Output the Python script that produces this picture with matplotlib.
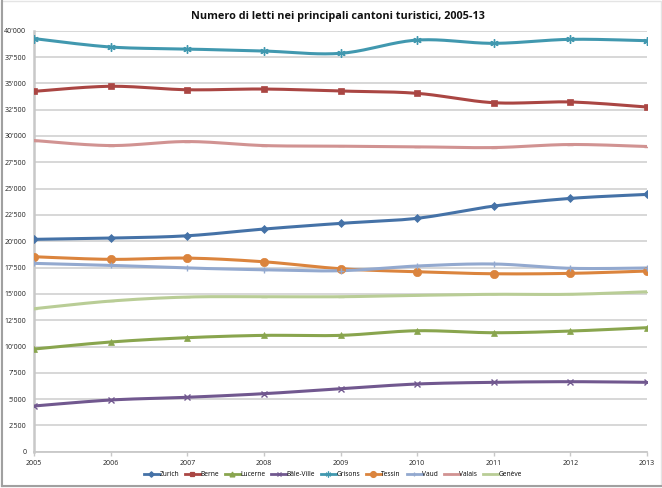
import numpy as np
import matplotlib
matplotlib.use("Agg")
import matplotlib.pyplot as plt
from matplotlib.ticker import FuncFormatter, MultipleLocator
from matplotlib.lines import Line2D

years = [2005, 2006, 2007, 2008, 2009, 2010, 2011, 2012, 2013]
zurich = [20180, 20300, 20520, 21160, 21700, 22180, 23340, 24070, 24450]
berne = [34240, 34720, 34390, 34460, 34270, 34050, 33160, 33230, 32750]
lucerne = [9760, 10430, 10840, 11060, 11060, 11500, 11310, 11470, 11790]
bale_ville = [4350, 4920, 5180, 5520, 5990, 6440, 6600, 6660, 6600]
grisons = [39250, 38450, 38260, 38070, 37850, 39110, 38800, 39180, 39050]
tessin = [18530, 18280, 18400, 18050, 17390, 17100, 16910, 16950, 17170]
vaud = [17900, 17710, 17460, 17290, 17200, 17650, 17840, 17430, 17460]
valais = [29570, 29090, 29470, 29090, 29030, 28970, 28900, 29190, 29000]
geneve = [13590, 14320, 14700, 14730, 14730, 14860, 14960, 14960, 15200]

names = ["Zurich", "Berne", "Lucerne", "Bâle-Ville", "Grisons", "Tessin", "Vaud", "Valais", "Genève"]
series = [zurich, berne, lucerne, bale_ville, grisons, tessin, vaud, valais, geneve]
colors = ["#4572A7", "#AA4643", "#89A54E", "#71588F", "#4198AF", "#DB843D", "#93A9CF", "#D19392", "#B9CD96"]
markers = ["D", "s", "^", "x", (6, 2, 0), "o", "+", "_", "_"]
msizes = [4, 5, 5, 5, 6, 6, 5, 4, 4]

title = "Numero di letti nei principali cantoni turistici, 2005-13"


def smooth(x, y, n=20):
    # Excel-style smoothed line (cubic Bezier, Catmull-Rom control points)
    x = np.asarray(x, float)
    y = np.asarray(y, float)
    P = np.column_stack([x, y])
    out = []
    for i in range(len(P) - 1):
        p0 = P[i - 1] if i > 0 else P[i]
        p1 = P[i]
        p2 = P[i + 1]
        p3 = P[i + 2] if i + 2 < len(P) else P[i + 1]
        c1 = p1 + (p2 - p0) / 6.0
        c2 = p2 - (p3 - p1) / 6.0
        t = np.linspace(0, 1, n, endpoint=(i == len(P) - 2))[:, None]
        b = ((1 - t) ** 3) * p1 + 3 * ((1 - t) ** 2) * t * c1 + 3 * (1 - t) * t ** 2 * c2 + t ** 3 * p2
        out.append(b)
    B = np.vstack(out)
    return B[:, 0], B[:, 1]


plt.rcParams['font.family'] = ['Open Sans', 'DejaVu Sans']
fig = plt.figure(figsize=(6.62, 4.88), dpi=100)
fig.patch.set_facecolor("white")

ax = fig.add_axes([34 / 662, (488 - 451.8) / 488, (647 - 34) / 662, (451.8 - 30.7) / 488])

for vals, c, m, ms in zip(series, colors, markers, msizes):
    sx, sy = smooth(years, vals)
    ax.plot(sx, sy, color=c, lw=2.2, solid_capstyle="round", zorder=3)
    ax.plot(years, vals, linestyle="none", marker=m, color=c, markersize=ms,
            markeredgewidth=1.0 if m in ("x", "+", "_") or isinstance(m, tuple) else 0.5,
            markeredgecolor=c, zorder=4)

ax.set_xlim(2005, 2013)
ax.set_ylim(0, 40000)
ax.yaxis.set_major_locator(MultipleLocator(2500))
ax.xaxis.set_major_locator(MultipleLocator(1))
ax.yaxis.set_major_formatter(FuncFormatter(lambda v, p: f"{int(v):,}".replace(",", "'")))
ax.xaxis.set_major_formatter(FuncFormatter(lambda v, p: f"{int(v)}"))
ax.grid(axis="y", color="#D4D4D4", lw=1.3, zorder=0)
ax.set_axisbelow(True)
for s in ["top", "right"]:
    ax.spines[s].set_visible(False)
ax.spines["left"].set_color("#C8C8C8")
ax.spines["left"].set_linewidth(1.8)
ax.spines["bottom"].set_color("#C8C8C8")
ax.spines["bottom"].set_linewidth(1.3)
ax.tick_params(axis="y", length=0, labelsize=5, pad=5.5, labelcolor="#222222")
ax.tick_params(axis="x", length=3, width=1, color="#C8C8C8", labelsize=5, pad=3, labelcolor="#222222")

fig.text(0.51, 1 - 17 / 488, title, ha="center", va="center", fontsize=7.8, fontweight="bold", color="#111111")

handles = [Line2D([0], [0], color=c, lw=2.0, marker=m, markersize=ms * 0.7,
                  markeredgecolor=c, markeredgewidth=0.9)
           for c, m, ms in zip(colors, markers, msizes)]
fig.legend(handles, names, loc="center", bbox_to_anchor=(333 / 662, 1 - 475 / 488), ncol=9,
           frameon=False, fontsize=4.8, handlelength=2.2, handletextpad=0.1,
           columnspacing=0.9, borderpad=0)

# chart frame: light outline with a darker left/bottom shadow
fig.add_artist(plt.Rectangle((1 / 662, 2 / 488), 1 - 2.5 / 662, 1 - 3 / 488,
                             transform=fig.transFigure, fill=False, edgecolor="#E4E4E4", lw=1.0))
fig.add_artist(Line2D([1.5 / 662, 1.5 / 662], [2 / 488, 1 - 1 / 488], transform=fig.transFigure,
                      color="#A0A0A0", lw=1.5))
fig.add_artist(Line2D([1.5 / 662, 1 - 1 / 662], [2 / 488, 2 / 488], transform=fig.transFigure,
                      color="#A0A0A0", lw=1.5))

fig.savefig("out.png", dpi=100, facecolor="white")
